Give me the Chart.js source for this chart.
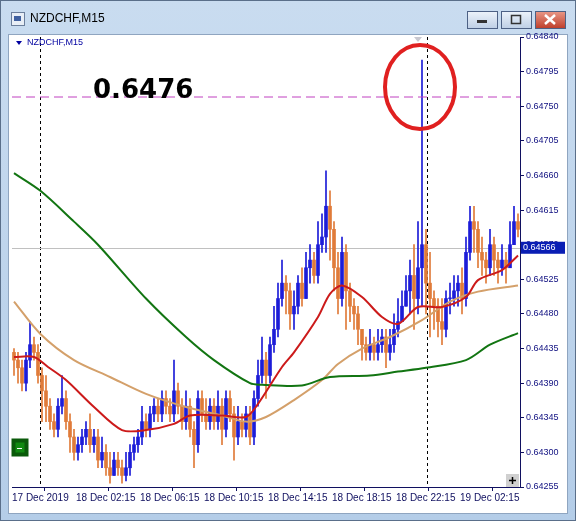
<!DOCTYPE html><html><head><meta charset="utf-8">
<script src="https://cdn.jsdelivr.net/npm/chart.js@4"></script>
<style>html,body{margin:0;padding:0;background:#fff}#w{width:576px;height:521px;position:relative}</style></head><body>
<div id="w"><canvas id="c" width="576" height="521"></canvas></div>
<script>
const title = "NZDCHF,M15";
const closes = [.6442,.6441,.6439,.6442,.6444,.6443,.6440,.6438,.6436,.6434,
.6433,.6436,.6437,.6434,.6432,.6430,.6431,.6432,.6433,.6431,
.6432,.6429,.6430,.6428,.6427,.6429,.6428,.6427,.6428,.6430,
.6431,.6432,.6434,.6433,.6435,.6436,.6435,.6437,.6436,.6435,
.6438,.6436,.6434,.6436,.6433,.6431,.6437,.6435,.6434,.6436,
.6434,.6436,.6433,.6437,.6435,.6432,.6434,.6433,.6435,.6432,
.6437,.6440,.6442,.6440,.6444,.6446,.6450,.6452,.6451,.6448,
.6449,.6452,.6450,.6454,.6455,.6453,.6457,.6458,.6462,.6459,
.6454,.6450,.6456,.6451,.6449,.6448,.6446,.6444,.6443,.6444,
.6443,.6444,.6445,.6443,.6444,.6446,.6447,.6449,.6451,.6453,
.6450,.6454,.6457,.6452,.6450,.6449,.6447,.6446,.6450,.6450,
.6451,.6452,.6450,.6456,.6460,.6459,.6456,.6455,.6454,.6457,
.6455,.6454,.6455,.6454,.6457,.6460,.6459];
const firstOpen = .6443;
const highs = [.64435,.6443,.6442,.6443,.6447,.6445,.6444,.6441,.6440,.6437,
.6435,.6437,.6440,.6438,.6435,.6433,.6432,.6433,.6434,.6435,
.6433,.6433,.6432,.6431,.6430,.6430,.6430,.6429,.6430,.6431,
.6432,.6433,.6436,.6435,.6436,.6437,.6437,.6438,.6438,.6437,
.6442,.6439,.6437,.6438,.6437,.6434,.6438,.6438,.6437,.6437,
.6437,.6438,.6437,.6438,.6438,.6436,.6436,.6435,.6436,.6436,
.6438,.6442,.6445,.6443,.6445,.6449,.6452,.6455,.6453,.6452,
.6451,.6453,.6454,.6456,.6457,.6456,.6460,.6461,.64666,.6464,
.6460,.6456,.6458,.6457,.6452,.6450,.6449,.6446,.6445,.6446,
.6445,.6446,.6446,.6446,.6446,.6448,.6450,.6451,.6453,.6455,
.6457,.6460,.6481,.6459,.6456,.6451,.6450,.6450,.6451,.6452,
.6453,.6453,.6454,.6458,.6462,.6462,.6460,.6458,.6456,.6459,
.6458,.6456,.6457,.6456,.6460,.6462,.6461];
const lows = [.6440,.6439,.6438,.6438,.6441,.6442,.6439,.6434,.6434,.6433,
.6432,.6432,.6435,.6433,.6430,.6429,.6429,.6430,.6431,.6430,
.6430,.6428,.6428,.6427,.6426,.6427,.6427,.6426,.64263,.6427,
.6429,.6430,.6431,.6432,.6432,.6434,.6434,.6434,.6435,.6434,
.6434,.6435,.6433,.6433,.6432,.6428,.6430,.6434,.6433,.6433,
.6433,.6433,.6431,.6432,.6434,.6429,.6431,.6432,.6432,.6431,
.6431,.6436,.6439,.6437,.6439,.6443,.6445,.6449,.6448,.6446,
.6446,.6448,.6449,.6450,.6452,.6452,.6452,.6456,.6456,.6455,
.6451,.6448,.6449,.6446,.6447,.6446,.6444,.6442,.6442,.6442,
.6442,.6442,.6443,.6441,.6442,.6443,.6445,.6447,.6449,.6448,
.6446,.6448,.6449,.6448,.6445,.6446,.6445,.6444,.6445,.6448,
.6449,.6449,.6448,.6449,.6455,.6456,.6454,.6453,.6452,.6453,
.6453,.6452,.6453,.6452,.6455,.6458,.6458];
// moving averages sampled at bar indices
const maGreenX = [0,6.6,15,21,33,43,50,59,62,72,79,89,96,103,113,119,126];
const maGreenY = [.64663,.6464,.6460,.6457,.6450,.6445,.6442,.6439,.64388,.64387,.64398,.6440,.64405,.6441,.6442,.6444,.64455];
const maTanX = [0,6.6,15,24,33,43,52,58,63,70,77,81,87,94,102,109,116,126];
const maTanY = [.64496,.64454,.6442,.64398,.64376,.64359,.64348,.6434,.64346,.64368,.64394,.64415,.64435,.6445,.64472,.64496,.64509,.64517];
const maRedX = [0,5,8.5,13,20,27,33,40,44,52,58,61,67,70,76,79,82,87,92,96,101,107,113,116,122,126];
const maRedY = [.64424,.64424,.64411,.64394,.64359,.64329,.64329,.64337,.64348,.64348,.64346,.64363,.64411,.6443,.64476,.64506,.64517,.64502,.64476,.64467,.64489,.64489,.64502,.64524,.64537,.64556];
const xTickBars = [0,16,32,48,64,80,96,112];
const xTickLabels = ["17 Dec 2019","18 Dec 02:15","18 Dec 06:15","18 Dec 10:15","18 Dec 14:15","18 Dec 18:15","18 Dec 22:15","19 Dec 02:15"];
const yTicks = [0.64255,0.64300,0.64345,0.64390,0.64435,0.64480,0.64525,0.64570,0.64615,0.64660,0.64705,0.64750,0.64795,0.64840];
const levelPrice = 0.64762, levelText = "0.6476", bidPrice = 0.64566;
const vLines = [6.5, 103.2];

const opens = closes.map((c,i)=> i===0 ? firstOpen : closes[i-1]);
const UP='#1c1cd8', DN='#e07b39';
const bodies = closes.map((c,i)=>({x:i,y:[opens[i], c===opens[i]? c+0.000008 : c]}));
const wicks = closes.map((c,i)=>({x:i,y:[Math.min(lows[i],opens[i],c),Math.max(highs[i],opens[i],c)]}));
const col = closes.map((c,i)=> c>=opens[i]?UP:DN);
const pts=(xs,ys)=>xs.map((x,i)=>({x,y:ys[i]}));
const F='"Liberation Sans", Arial, sans-serif';

const chrome = {id:'chrome', beforeDraw(ch){const g=ch.ctx;
  g.save();
  let gr=g.createLinearGradient(0,0,0,521);gr.addColorStop(0,'#c9dcf0');gr.addColorStop(1,'#b4cde8');
  g.fillStyle=gr;g.fillRect(0,0,576,521);
  g.strokeStyle='#5a6f8a';g.strokeRect(0.5,0.5,575,520);
  g.fillStyle='#fff';g.fillRect(8,34,560,480);
  g.strokeStyle='#8fa5c0';g.strokeRect(8.5,34.5,559,479);
  // title
  g.fillStyle='#000';g.font='12px '+F;g.textBaseline='middle';g.fillText(title,30,19);
  g.fillStyle='#e8eef6';g.strokeStyle='#6c7f9c';g.fillRect(11,12,13,13);g.strokeRect(11.5,12.5,13,13);
  g.fillStyle='#4060a0';g.fillRect(14,16,7,5);
  // buttons
  const btn=(x,w,c1,c2)=>{let b=g.createLinearGradient(0,11,0,28);b.addColorStop(0,c1);b.addColorStop(1,c2);g.fillStyle=b;g.fillRect(x,11,w,17);g.strokeStyle='#4d6185';g.strokeRect(x+.5,11.5,w,17);};
  btn(467,30,'#eef4fb','#bfd0e6');btn(501,30,'#eef4fb','#bfd0e6');btn(535,30,'#e99a8a','#c0402c');
  g.fillStyle='#333';g.fillRect(477,20,10,3);g.strokeStyle='#333';g.lineWidth=1.5;g.strokeRect(511.5,15.5,9,8);
  g.strokeStyle='#fff';g.lineWidth=2.5;g.beginPath();g.moveTo(545,15);g.lineTo(555,24);g.moveTo(555,15);g.lineTo(545,24);g.stroke();
  g.restore();}};

const overlay = {id:'overlay', beforeDatasetsDraw(ch){const g=ch.ctx,xs=ch.scales.x,ys=ch.scales.y,a=ch.chartArea;
  g.save();
  g.strokeStyle='#000';g.lineWidth=1;g.setLineDash([3,3]);
  vLines.forEach(v=>{const x=Math.round(xs.getPixelForValue(v))+.5;g.beginPath();g.moveTo(x,a.top);g.lineTo(x,a.bottom);g.stroke();});
  g.setLineDash([]);g.strokeStyle='#c0c0c0';
  let yb=Math.round(ys.getPixelForValue(bidPrice))+.5;g.beginPath();g.moveTo(a.left,yb);g.lineTo(a.right,yb);g.stroke();
  g.restore();},
 afterDraw(ch){const g=ch.ctx,xs=ch.scales.x,ys=ch.scales.y,a=ch.chartArea;
  g.save();
  let yl=ys.getPixelForValue(levelPrice);
  g.strokeStyle='#c040c0';g.lineWidth=1;g.setLineDash([9,5]);g.beginPath();g.moveTo(a.left,yl);g.lineTo(a.right,yl);g.stroke();g.setLineDash([]);
  g.fillStyle='#000';g.font='bold 26px "DejaVu Sans", sans-serif';g.textBaseline='alphabetic';g.fillText(levelText,93,98);
  g.strokeStyle='#e02020';g.lineWidth=4;g.beginPath();g.ellipse(420,87,35,42,0,0,Math.PI*2);g.stroke();
  // legend
  g.fillStyle='#0000a0';g.beginPath();g.moveTo(16,41);g.lineTo(22,41);g.lineTo(19,45);g.fill();
  g.font='9px '+F;g.textBaseline='middle';g.fillText(title,27,43);
  // top gray triangle
  let xt=xs.getPixelForValue(101);g.fillStyle='#c8c8d0';g.beginPath();g.moveTo(xt-4,a.top);g.lineTo(xt+4,a.top);g.lineTo(xt,a.top+5);g.fill();
  // bid label
  let yb=ys.getPixelForValue(bidPrice);g.fillStyle='#0a1eb4';g.fillRect(a.right+1,yb-6,44,12);
  g.fillStyle='#fff';g.font='9px '+F;g.fillText('0.64566',a.right+3,yb);
  // green box
  g.fillStyle='#118a11';g.fillRect(13,440,14,15);g.strokeStyle='#0a5a0a';g.strokeRect(13.5,440.5,13,14);
  g.fillStyle='#fff';g.fillRect(17,448,5,1);
  // plus box
  g.fillStyle='#d0d0d0';g.fillRect(a.right-14,a.bottom-13,13,13);g.strokeStyle='#000';g.lineWidth=1.5;
  g.beginPath();g.moveTo(a.right-11,a.bottom-6.5);g.lineTo(a.right-4,a.bottom-6.5);g.moveTo(a.right-7.5,a.bottom-10);g.lineTo(a.right-7.5,a.bottom-3);g.stroke();
  g.restore();}};

new Chart(document.getElementById('c'),{
  data:{datasets:[
    {type:'line',data:pts(maGreenX,maGreenY),borderColor:'#127512',borderWidth:2,pointRadius:0,tension:0.3,order:1},
    {type:'line',data:pts(maTanX,maTanY),borderColor:'#d4a06a',borderWidth:2,pointRadius:0,tension:0.3,order:1},
    {type:'line',data:pts(maRedX,maRedY),borderColor:'#cc1a1a',borderWidth:2,pointRadius:0,tension:0.3,order:0},
    {type:'bar',data:wicks,backgroundColor:col,barThickness:1,grouped:false,order:3},
    {type:'bar',data:bodies,backgroundColor:col,barThickness:3,grouped:false,order:2}
  ]},
  options:{responsive:false,animation:false,devicePixelRatio:1,
    layout:{padding:{left:12,top:37,right:8,bottom:14}},
    plugins:{legend:{display:false},tooltip:{enabled:false}},
    scales:{
      x:{type:'linear',min:-0.5,max:126.5,offset:false,
        afterFit:s=>{s.height=20},
        afterBuildTicks:s=>{s.ticks=xTickBars.map(v=>({value:v-0.5}))},
        ticks:{autoSkip:false,maxRotation:0,align:'start',padding:1,color:'#101060',font:{family:F,size:10},
          callback:(v,i)=>xTickLabels[i]},
        grid:{drawOnChartArea:false,tickLength:4,color:'#101060'},border:{color:'#101060'}},
      y:{position:'right',min:0.64255,max:0.64840,
        afterFit:s=>{s.width=48},
        afterBuildTicks:s=>{s.ticks=yTicks.map(v=>({value:v}))},
        ticks:{autoSkip:false,padding:2,color:'#101080',font:{family:F,size:9},callback:v=>v.toFixed(5)},
        grid:{drawOnChartArea:false,tickLength:4,color:'#101060'},border:{color:'#101060'}}
    }},
  plugins:[chrome,overlay]
});
</script></body></html>
